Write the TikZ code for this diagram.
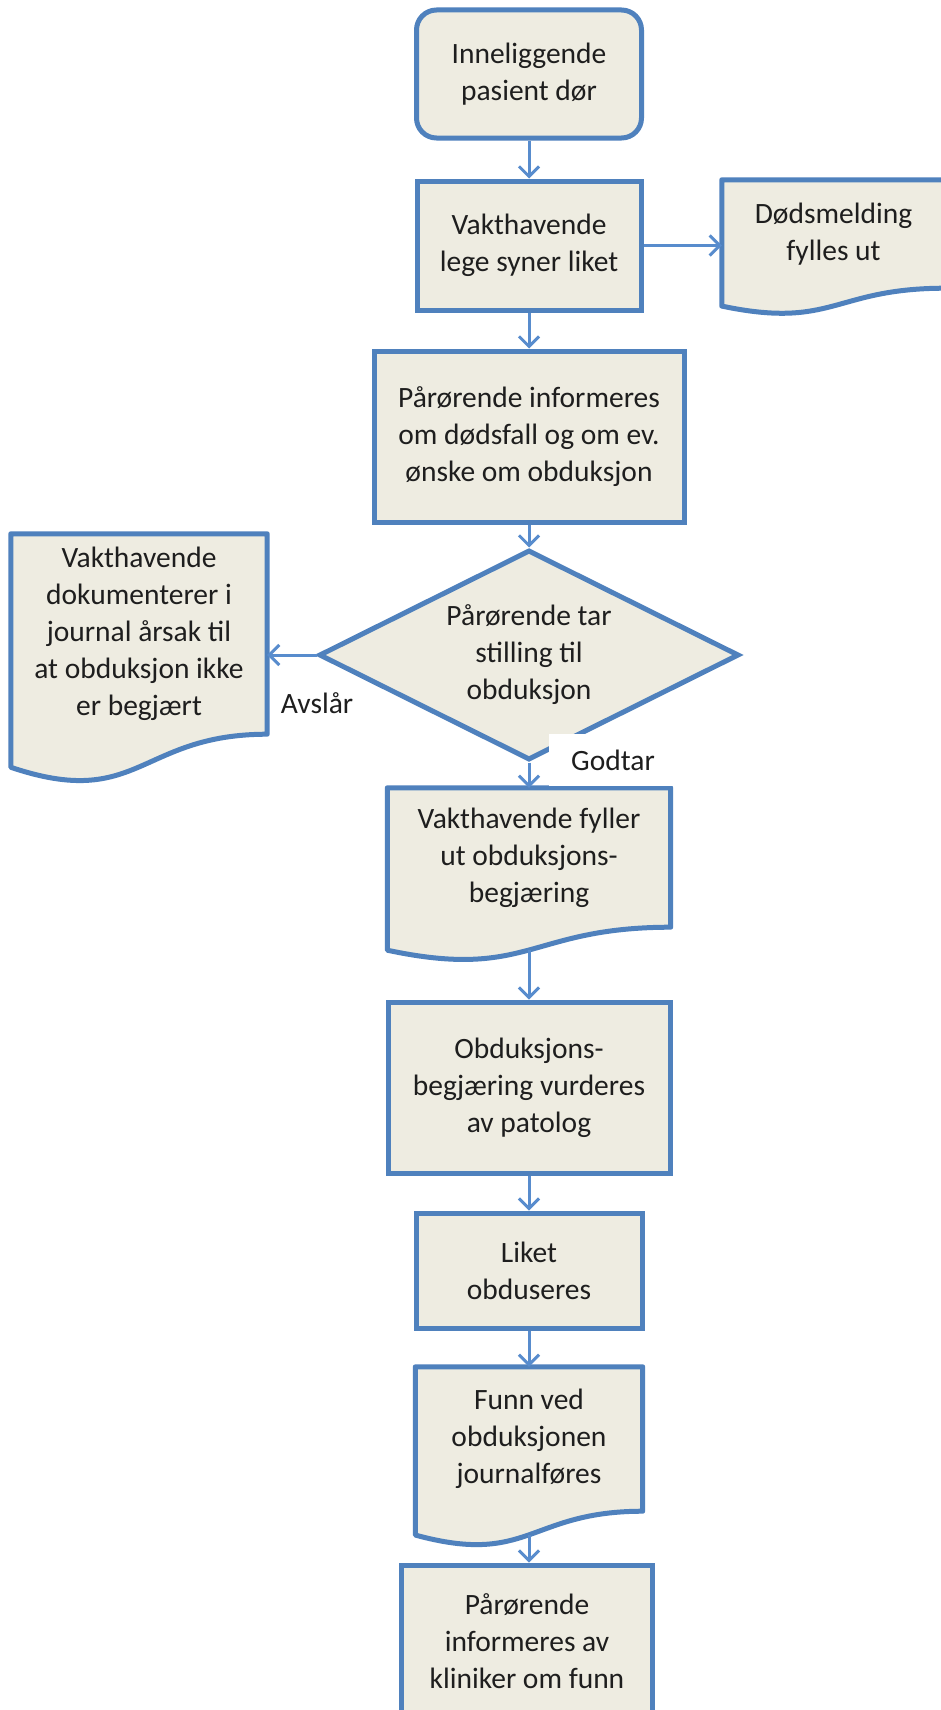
\documentclass[tikz,border=0pt]{standalone}
\usepackage{fontspec}
\setmainfont{Carlito}
\usepackage{tikz}
\definecolor{boxblue}{RGB}{79, 129, 189}
\definecolor{boxfill}{RGB}{238, 236, 225}
\definecolor{arrowblue}{RGB}{88, 140, 205}
\definecolor{textdark}{RGB}{30, 30, 30}
\usetikzlibrary{shapes.geometric, arrows.meta, positioning, calc, backgrounds}

% wavy document outline behind a docbox node, plus (name wave) at the bottom middle
\newcommand{\docoutline}[1]{%
  \begin{scope}[on background layer]
    \draw[docline] let \p1 = ($(#1.north)-(#1.south)$) in
      (#1.north west) -- (#1.north east) -- (#1.south east)
      .. controls (#1.south) and ($(#1.south)+(0pt,-0.381*\y1)$) ..
      ($(#1.south west)+(0pt,-0.165*\y1)$) -- cycle
      ($(#1.south)+(0pt,-0.164*\y1)$) coordinate (#1 wave);
  \end{scope}}

\begin{document}
\begin{tikzpicture}[
    x=1pt, y=-1pt,
    font=\fontsize{29.5}{37}\selectfont,
    box/.style={rectangle, draw=boxblue, fill=boxfill, line width=5pt, text=textdark, align=center, inner sep=0pt},
    startbox/.style={box, rounded corners=20pt},
    docbox/.style={rectangle, text=textdark, align=center, inner sep=0pt},
    docline/.style={draw=boxblue, fill=boxfill, line width=5pt, line join=round},
    decision/.style={diamond, aspect=2, draw=boxblue, fill=boxfill, line width=5pt, text=textdark, align=center, inner sep=0pt},
    arrow/.style={-{Straight Barb[length=10pt, width=20pt]}, draw=arrowblue, line width=3pt},
    answer/.style={text=textdark, fill=white, inner xsep=22pt, minimum height=52pt}
]
    \begin{scope}[on background layer]
        \fill[white] (0,0) rectangle (941,1710);
    \end{scope}
    \useasboundingbox (0,0) rectangle (941,1710);

    % Death and first steps
    \node[startbox, minimum width=225pt, minimum height=128pt] (start) at (529, 74) {Inneliggende\\pasient dør};
    \node[box, minimum width=224pt, minimum height=129pt] (lege) at (529, 245.5) {Vakthavende\\lege syner liket};
    \node[docbox, minimum width=223pt, minimum height=108pt] (doed) at (833.5, 234) {Dødsmelding\\fylles ut};
    \docoutline{doed}
    \node[box, minimum width=310pt, minimum height=171pt] (info) at (529, 436.5) {Pårørende informeres\\om dødsfall og om ev.\\ønske om obduksjon};

    % Decision
    \node[decision, minimum width=420pt, minimum height=210pt] (valg) at (529, 655) {Pårørende tar\\stilling til\\obduksjon};
    \node[docbox, minimum width=256pt, minimum height=200pt] (avslag) at (139, 634) {Vakthavende\\dokumenterer i\\journal årsak til\\at obduksjon ikke\\er begjært};
    \docoutline{avslag}
    \node[answer, fill=none] (avslaar) at (317, 703) {Avslår};
    \node[answer] (godtar) at (613, 760) {Godtar};

    % Autopsy
    \node[docbox, minimum width=283pt, minimum height=139pt] (fyll) at (529, 857.5) {Vakthavende fyller\\ut obduksjons-\\begjæring};
    \docoutline{fyll}
    \node[box, minimum width=282pt, minimum height=171pt] (vurd) at (529, 1087.5) {Obduksjons-\\begjæring vurderes\\av patolog};
    \node[box, minimum width=226pt, minimum height=115pt] (obd) at (529, 1270.5) {Liket\\obduseres};
    \node[docbox, minimum width=227pt, minimum height=144pt] (funn) at (529, 1439) {Funn ved\\obduksjonen\\journalføres};
    \docoutline{funn}
    \node[box, minimum width=251pt, minimum height=152pt] (svar) at (527, 1641) {Pårørende\\informeres av\\kliniker om funn};

    % Arrows
    \draw[arrow] (start) -- (lege);
    \draw[arrow] (lege.east) -- (lege.east -| doed.west);
    \draw[arrow] (lege) -- (info);
    \draw[arrow] (info) -- (valg);
    \draw[arrow] (valg.west) -- (valg.west -| avslag.east);
    \draw[arrow] (valg.south) -- (fyll.north);
    \draw[arrow] (fyll wave) -- (vurd.north);
    \draw[arrow] (vurd) -- (obd);
    \draw[arrow] (obd) -- (funn);
    \draw[arrow] (funn wave) -- (funn wave |- svar.north);
\end{tikzpicture}
\end{document}
